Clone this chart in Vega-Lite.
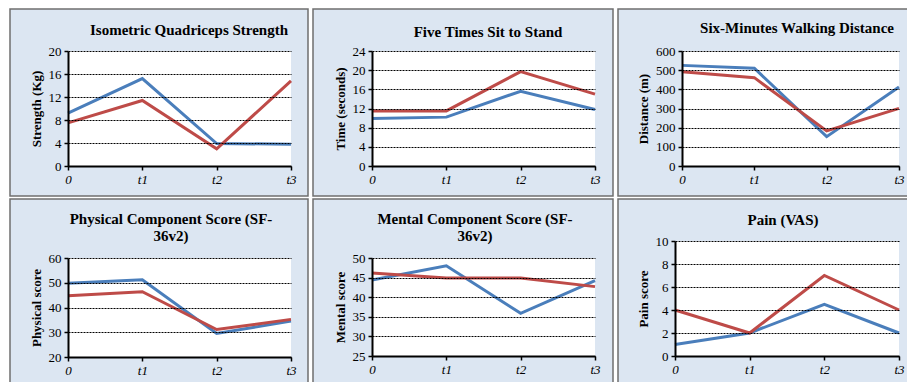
{
  "$schema": "https://vega.github.io/schema/vega-lite/v6.json",
  "background": "white",
  "padding": {"left": 9, "top": 8, "right": 0, "bottom": 0},
  "bounds": "flush",
  "columns": 3,
  "spacing": {"row": 3, "column": 5},
  "datasets": {
    "strength": [
      {"time": "0", "series": "A", "value": 9.2},
      {"time": "t1", "series": "A", "value": 15.2},
      {"time": "t2", "series": "A", "value": 3.9},
      {"time": "t3", "series": "A", "value": 3.8},
      {"time": "0", "series": "B", "value": 7.5},
      {"time": "t1", "series": "B", "value": 11.4},
      {"time": "t2", "series": "B", "value": 3.0},
      {"time": "t3", "series": "B", "value": 14.8}
    ],
    "sitstand": [
      {"time": "0", "series": "A", "value": 9.9},
      {"time": "t1", "series": "A", "value": 10.2},
      {"time": "t2", "series": "A", "value": 15.6},
      {"time": "t3", "series": "A", "value": 11.8},
      {"time": "0", "series": "B", "value": 11.5},
      {"time": "t1", "series": "B", "value": 11.5},
      {"time": "t2", "series": "B", "value": 19.7},
      {"time": "t3", "series": "B", "value": 15.0}
    ],
    "walking": [
      {"time": "0", "series": "A", "value": 525},
      {"time": "t1", "series": "A", "value": 510},
      {"time": "t2", "series": "A", "value": 153},
      {"time": "t3", "series": "A", "value": 412},
      {"time": "0", "series": "B", "value": 492},
      {"time": "t1", "series": "B", "value": 461},
      {"time": "t2", "series": "B", "value": 183},
      {"time": "t3", "series": "B", "value": 301}
    ],
    "physical": [
      {"time": "0", "series": "A", "value": 49.8},
      {"time": "t1", "series": "A", "value": 51.2},
      {"time": "t2", "series": "A", "value": 29.5},
      {"time": "t3", "series": "A", "value": 34.5},
      {"time": "0", "series": "B", "value": 44.7},
      {"time": "t1", "series": "B", "value": 46.4},
      {"time": "t2", "series": "B", "value": 31.1},
      {"time": "t3", "series": "B", "value": 35.2}
    ],
    "mental": [
      {"time": "0", "series": "A", "value": 44.4},
      {"time": "t1", "series": "A", "value": 48.0},
      {"time": "t2", "series": "A", "value": 35.9},
      {"time": "t3", "series": "A", "value": 44.2},
      {"time": "0", "series": "B", "value": 46.2},
      {"time": "t1", "series": "B", "value": 44.9},
      {"time": "t2", "series": "B", "value": 44.9},
      {"time": "t3", "series": "B", "value": 42.7}
    ],
    "pain": [
      {"time": "0", "series": "A", "value": 1.0},
      {"time": "t1", "series": "A", "value": 2.0},
      {"time": "t2", "series": "A", "value": 4.5},
      {"time": "t3", "series": "A", "value": 2.0},
      {"time": "0", "series": "B", "value": 4.0},
      {"time": "t1", "series": "B", "value": 2.0},
      {"time": "t2", "series": "B", "value": 7.0},
      {"time": "t3", "series": "B", "value": 4.0}
    ]
  },
  "concat": [
    {
      "width": 298, "height": 187,
      "data": {"name": "strength"},
      "title": {"text": "Isometric Quadriceps Strength", "dx": 30, "offset": -29},
      "encoding": {
        "x": {"field": "time", "type": "ordinal", "scale": {"type": "point", "padding": 0, "domain": ["0", "t1", "t2", "t3"], "range": [58, 281]}, "axis": {"title": null, "offset": -30, "zindex": 2}},
        "y": {"field": "value", "type": "quantitative", "scale": {"domain": [0, 20], "range": [157, 42], "nice": false, "zero": false}, "axis": {"title": "Strength (Kg)", "values": [0, 4, 8, 12, 16, 20], "offset": -58, "zindex": 1}}
      },
      "layer": [
        {"mark": {"type": "rect", "fill": "white"}, "encoding": {"x": {"datum": "0", "type": "ordinal"}, "x2": {"datum": "t3"}, "y": {"datum": 0}, "y2": {"datum": 20}}},
        {"mark": {"type": "line", "strokeWidth": 3}, "encoding": {"color": {"field": "series", "type": "nominal", "scale": {"domain": ["A", "B"], "range": ["#4a7ebb", "#be4b48"]}, "legend": null}}}
      ]
    },
    {
      "width": 300, "height": 187,
      "data": {"name": "sitstand"},
      "title": {"text": "Five Times Sit to Stand", "dx": 25, "offset": -31},
      "encoding": {
        "x": {"field": "time", "type": "ordinal", "scale": {"type": "point", "padding": 0, "domain": ["0", "t1", "t2", "t3"], "range": [59, 282]}, "axis": {"title": null, "offset": -30, "zindex": 2}},
        "y": {"field": "value", "type": "quantitative", "scale": {"domain": [0, 24], "range": [157, 42], "nice": false, "zero": false}, "axis": {"title": "Time (seconds)", "values": [0, 4, 8, 12, 16, 20, 24], "offset": -59, "zindex": 1}}
      },
      "layer": [
        {"mark": {"type": "rect", "fill": "white"}, "encoding": {"x": {"datum": "0", "type": "ordinal"}, "x2": {"datum": "t3"}, "y": {"datum": 0}, "y2": {"datum": 24}}},
        {"mark": {"type": "line", "strokeWidth": 3}, "encoding": {"color": {"field": "series", "type": "nominal", "scale": {"domain": ["A", "B"], "range": ["#4a7ebb", "#be4b48"]}, "legend": null}}}
      ]
    },
    {
      "width": 290, "height": 187,
      "data": {"name": "walking"},
      "title": {"text": "Six-Minutes Walking Distance", "dx": 34, "offset": -27},
      "encoding": {
        "x": {"field": "time", "type": "ordinal", "scale": {"type": "point", "padding": 0, "domain": ["0", "t1", "t2", "t3"], "range": [64, 281]}, "axis": {"title": null, "offset": -30, "zindex": 2}},
        "y": {"field": "value", "type": "quantitative", "scale": {"domain": [0, 600], "range": [157, 42], "nice": false, "zero": false}, "axis": {"title": "Distance (m)", "values": [0, 100, 200, 300, 400, 500, 600], "offset": -64, "zindex": 1}}
      },
      "layer": [
        {"mark": {"type": "rect", "fill": "white"}, "encoding": {"x": {"datum": "0", "type": "ordinal"}, "x2": {"datum": "t3"}, "y": {"datum": 0}, "y2": {"datum": 600}}},
        {"mark": {"type": "line", "strokeWidth": 3}, "encoding": {"color": {"field": "series", "type": "nominal", "scale": {"domain": ["A", "B"], "range": ["#4a7ebb", "#be4b48"]}, "legend": null}}}
      ]
    },
    {
      "width": 298, "height": 184,
      "data": {"name": "physical"},
      "title": {"text": ["Physical Component Score (SF-", "36v2)"], "dx": 12, "offset": -45, "lineHeight": 17},
      "encoding": {
        "x": {"field": "time", "type": "ordinal", "scale": {"type": "point", "padding": 0, "domain": ["0", "t1", "t2", "t3"], "range": [58, 281]}, "axis": {"title": null, "offset": -26, "zindex": 2}},
        "y": {"field": "value", "type": "quantitative", "scale": {"domain": [20, 60], "range": [158, 59], "nice": false, "zero": false}, "axis": {"title": "Physical score", "values": [20, 30, 40, 50, 60], "offset": -58, "zindex": 1}}
      },
      "layer": [
        {"mark": {"type": "rect", "fill": "white"}, "encoding": {"x": {"datum": "0", "type": "ordinal"}, "x2": {"datum": "t3"}, "y": {"datum": 20}, "y2": {"datum": 60}}},
        {"mark": {"type": "line", "strokeWidth": 3}, "encoding": {"color": {"field": "series", "type": "nominal", "scale": {"domain": ["A", "B"], "range": ["#4a7ebb", "#be4b48"]}, "legend": null}}}
      ]
    },
    {
      "width": 300, "height": 184,
      "data": {"name": "mental"},
      "title": {"text": ["Mental Component Score (SF-", "36v2)"], "dx": 12, "offset": -45, "lineHeight": 17},
      "encoding": {
        "x": {"field": "time", "type": "ordinal", "scale": {"type": "point", "padding": 0, "domain": ["0", "t1", "t2", "t3"], "range": [59, 282]}, "axis": {"title": null, "offset": -27, "zindex": 2}},
        "y": {"field": "value", "type": "quantitative", "scale": {"domain": [25, 50], "range": [157, 59], "nice": false, "zero": false}, "axis": {"title": "Mental score", "values": [25, 30, 35, 40, 45, 50], "offset": -59, "zindex": 1}}
      },
      "layer": [
        {"mark": {"type": "rect", "fill": "white"}, "encoding": {"x": {"datum": "0", "type": "ordinal"}, "x2": {"datum": "t3"}, "y": {"datum": 25}, "y2": {"datum": 50}}},
        {"mark": {"type": "line", "strokeWidth": 3}, "encoding": {"color": {"field": "series", "type": "nominal", "scale": {"domain": ["A", "B"], "range": ["#4a7ebb", "#be4b48"]}, "legend": null}}}
      ]
    },
    {
      "width": 290, "height": 184,
      "data": {"name": "pain"},
      "title": {"text": "Pain (VAS)", "dx": 20, "offset": -29},
      "encoding": {
        "x": {"field": "time", "type": "ordinal", "scale": {"type": "point", "padding": 0, "domain": ["0", "t1", "t2", "t3"], "range": [57, 281]}, "axis": {"title": null, "offset": -27, "zindex": 2}},
        "y": {"field": "value", "type": "quantitative", "scale": {"domain": [0, 10], "range": [157, 42], "nice": false, "zero": false}, "axis": {"title": "Pain score", "values": [0, 2, 4, 6, 8, 10], "offset": -57, "zindex": 1}}
      },
      "layer": [
        {"mark": {"type": "rect", "fill": "white"}, "encoding": {"x": {"datum": "0", "type": "ordinal"}, "x2": {"datum": "t3"}, "y": {"datum": 0}, "y2": {"datum": 10}}},
        {"mark": {"type": "line", "strokeWidth": 3}, "encoding": {"color": {"field": "series", "type": "nominal", "scale": {"domain": ["A", "B"], "range": ["#4a7ebb", "#be4b48"]}, "legend": null}}}
      ]
    }
  ],
  "config": {
    "view": {"fill": "#dce6f2", "stroke": "#6f6f6f", "strokeWidth": 1.5},
    "scale": {"pointPadding": 0},
    "axis": {"domainColor": "#000", "domainWidth": 2, "tickColor": "#000", "tickSize": 4, "tickWidth": 1.5, "labelColor": "#000", "labelFont": "Liberation Serif", "labelFontSize": 13, "labelPadding": 3, "titleColor": "#000", "titleFont": "Liberation Serif", "titleFontSize": 13, "titleFontWeight": "bold"},
    "axisY": {"grid": true, "gridColor": "#000", "gridDash": [2, 1], "gridWidth": 1, "titlePadding": 5},
    "axisX": {"grid": false, "labelFontStyle": "italic", "labelAngle": 0},
    "title": {"font": "Liberation Serif", "fontSize": 15, "fontWeight": "bold", "color": "#000", "anchor": "middle", "frame": "group"}
  }
}
